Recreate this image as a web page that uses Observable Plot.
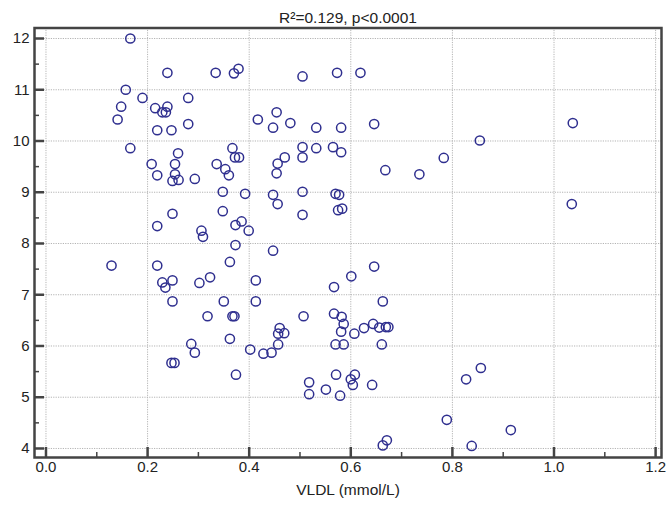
<!DOCTYPE html>
<html>
<head>
<meta charset="utf-8">
<script src="https://cdn.jsdelivr.net/npm/d3@7"></script>
<script src="https://cdn.jsdelivr.net/npm/@observablehq/plot@0.6"></script>
<style>
  html, body { margin: 0; padding: 0; background: #fff; }
  #chart svg { display: block; }
</style>
</head>
<body>
<div id="chart"></div>
<script>
const titleText = "R²=0.129, p<0.0001";
const xLabel = "VLDL (mmol/L)";
const xTicks = [0, 0.2, 0.4, 0.6, 0.8, 1.0, 1.2];
const xMinorTicks = [0.1, 0.3, 0.5, 0.7, 0.9, 1.1];
const yTicks = [4, 5, 6, 7, 8, 9, 10, 11, 12];
const yMinorTicks = [4.5, 5.5, 6.5, 7.5, 8.5, 9.5, 10.5, 11.5];

const vldl = [
  0.166, 0.239, 0.334, 0.157, 0.190, 0.280, 0.148, 0.215, 0.239, 0.229,
  0.236, 0.141, 0.219, 0.247, 0.280, 0.166, 0.260, 0.208, 0.254, 0.336,
  0.219, 0.254, 0.249, 0.261, 0.293, 0.370, 0.379, 0.505, 0.573, 0.619,
  0.417, 0.454, 0.447, 0.481, 0.532, 0.581, 0.646, 0.367, 0.372, 0.380,
  0.353, 0.360, 0.505, 0.532, 0.565, 0.581, 0.470, 0.456, 0.505, 0.454,
  0.668, 1.037, 0.854, 0.783, 0.735, 1.035, 0.249, 0.219, 0.306, 0.309,
  0.348, 0.348, 0.129, 0.219, 0.229, 0.249, 0.235, 0.302, 0.323, 0.249,
  0.318, 0.392, 0.447, 0.505, 0.570, 0.577, 0.456, 0.505, 0.575, 0.583,
  0.373, 0.385, 0.399, 0.373, 0.447, 0.362, 0.413, 0.646, 0.601, 0.567,
  0.350, 0.413, 0.663, 0.367, 0.371, 0.507, 0.567, 0.582, 0.586, 0.581,
  0.607, 0.626, 0.644, 0.656, 0.669, 0.674, 0.460, 0.457, 0.469, 0.362,
  0.402, 0.428, 0.444, 0.457, 0.570, 0.586, 0.661, 0.571, 0.608, 0.600,
  0.604, 0.518, 0.551, 0.518, 0.579, 0.642, 0.789, 0.671, 0.663, 0.286,
  0.293, 0.247, 0.253, 0.374, 0.856, 0.827, 0.915, 0.838
];
const values = [
  12.00, 11.33, 11.33, 11.00, 10.84, 10.84, 10.67, 10.64, 10.67, 10.56,
  10.56, 10.42, 10.21, 10.21, 10.33, 9.86, 9.76, 9.55, 9.55, 9.55,
  9.33, 9.35, 9.22, 9.24, 9.26, 11.32, 11.41, 11.26, 11.33, 11.33,
  10.42, 10.56, 10.26, 10.35, 10.26, 10.26, 10.33, 9.86, 9.68, 9.68,
  9.45, 9.33, 9.88, 9.86, 9.88, 9.78, 9.68, 9.56, 9.68, 9.37,
  9.43, 10.35, 10.01, 9.67, 9.35, 8.77, 8.58, 8.34, 8.25, 8.13,
  9.01, 8.63, 7.57, 7.57, 7.24, 7.28, 7.14, 7.23, 7.34, 6.87,
  6.58, 8.97, 8.95, 9.01, 8.97, 8.95, 8.77, 8.56, 8.65, 8.68,
  8.36, 8.43, 8.25, 7.97, 7.86, 7.64, 7.28, 7.55, 7.36, 7.15,
  6.87, 6.87, 6.87, 6.58, 6.58, 6.58, 6.63, 6.57, 6.43, 6.28,
  6.24, 6.35, 6.43, 6.36, 6.37, 6.37, 6.35, 6.24, 6.25, 6.14,
  5.93, 5.85, 5.87, 6.03, 6.03, 6.03, 6.03, 5.44, 5.44, 5.35,
  5.24, 5.29, 5.15, 5.06, 5.03, 5.24, 4.56, 4.16, 4.06, 6.04,
  5.87, 5.67, 5.67, 5.44, 5.57, 5.35, 4.36, 4.05
];

const points = vldl.map((x, i) => ({x, y: values[i]}));

const W = 672, H = 506;
const mL = 34, mR = 11, mT = 27.5, mB = 49;
const innerW = W - mL - mR, innerH = H - mT - mB;
const font = "'Liberation Sans', Arial, sans-serif";
const axisColor = "#444";

const chart = Plot.plot({
  width: W,
  height: H,
  marginLeft: mL,
  marginRight: mR,
  marginTop: mT,
  marginBottom: mB,
  style: {fontFamily: font, fontSize: "15px", color: "#222", background: "#fff"},
  x: {domain: [-0.0226, 1.2116], ticks: xTicks, tickFormat: d3.format(".1f")},
  y: {domain: [3.824, 12.205], ticks: yTicks},
  marks: [
    Plot.gridX(xTicks, {stroke: "#b4b4b4", strokeOpacity: 1, strokeWidth: 1, strokeDasharray: "1.2,1.2"}),
    Plot.gridY(yTicks, {stroke: "#b4b4b4", strokeOpacity: 1, strokeWidth: 1, strokeDasharray: "1.2,1.2"}),
    Plot.axisX(xTicks, {tickSize: 0, tickPadding: 4, tickFormat: d3.format(".1f"), fontSize: 15, fill: "#222", label: null}),
    Plot.axisY(yTicks, {tickSize: 0, tickPadding: 5, tickFormat: d3.format("d"), fontSize: 15, fill: "#222", label: null}),
    Plot.ruleX(xTicks, {x: d => d, insetTop: innerH - 10, stroke: axisColor, strokeWidth: 2.5}),
    Plot.ruleX(xMinorTicks, {x: d => d, insetTop: innerH - 5, stroke: axisColor, strokeWidth: 1.5}),
    Plot.ruleY(yTicks, {y: d => d, insetRight: innerW - 10, stroke: axisColor, strokeWidth: 2.5}),
    Plot.ruleY(yMinorTicks, {y: d => d, insetRight: innerW - 5, stroke: axisColor, strokeWidth: 1.5}),
    Plot.dot(points, {x: "x", y: "y", r: 4.6, stroke: "#2f2f8f", strokeWidth: 1.5, fill: "none"}),
    Plot.frame({stroke: axisColor, strokeWidth: 2.5}),
    Plot.text([titleText], {frameAnchor: "top", dy: -16, fontSize: 15.5, fill: "#222"}),
    Plot.text([xLabel], {frameAnchor: "bottom", dy: 37, fontSize: 15.5, fill: "#222"})
  ]
});

document.getElementById("chart").appendChild(chart);
</script>
</body>
</html>
